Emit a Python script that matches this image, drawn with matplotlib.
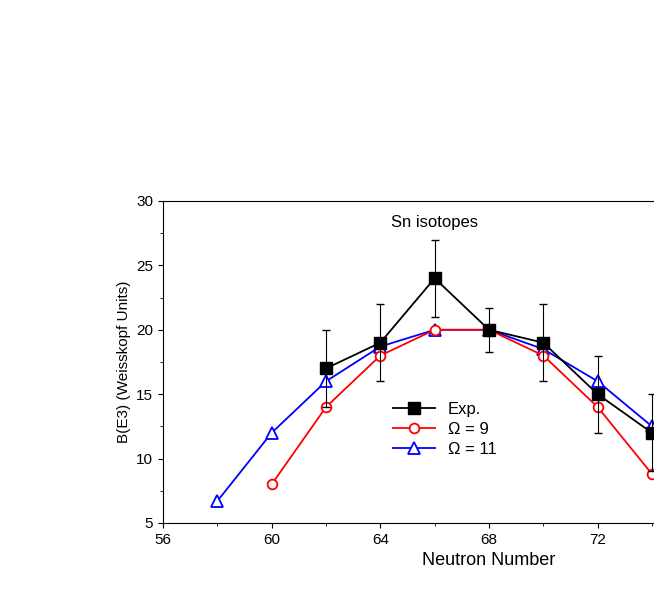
import matplotlib
matplotlib.use("Agg")
import matplotlib.pyplot as plt
from matplotlib.lines import Line2D

plt.rcParams['font.family'] = ['Liberation Sans', 'DejaVu Sans']

exp_n = [62, 64, 66, 68, 70, 72, 74]
exp_b = [17, 19, 24, 20, 19, 15, 12]
exp_err = [3, 3, 3, 1.7, 3, 3, 3]
o9_n = [60, 62, 64, 66, 68, 70, 72, 74]
o9_b = [8, 14, 18, 20, 20, 18, 14, 8.8]
o11_n = [58, 60, 62, 64, 66, 68, 70, 72, 74]
o11_b = [6.7, 12, 16, 18.7, 20, 20, 18.5, 16, 12.5]

fig = plt.figure(figsize=(6.54, 5.99), dpi=100)
ax = fig.add_axes([163/654, 76/599, 652/654, 322/599])
ax.errorbar(exp_n, exp_b, yerr=exp_err, color='black', ecolor='black', elinewidth=0.8,
            capsize=3, marker='s', markersize=8, lw=1.3, zorder=3)
ax.plot(o9_n, o9_b, color='red', marker='o', mfc='white', mec='red', markersize=7,
        mew=1.3, lw=1.3, zorder=2)
ax.plot(o11_n, o11_b, color='blue', marker='^', mfc='white', mec='blue', markersize=8,
        mew=1.3, lw=1.3, zorder=1)
ax.set_xlim(56, 80)
ax.set_ylim(5, 30)
ax.set_xticks([56, 60, 64, 68, 72])
ax.set_xticks(range(56, 76, 2), minor=True)
ax.set_yticks([5, 10, 15, 20, 25, 30])
ax.set_yticks([7.5 + 5*i for i in range(5)], minor=True)
ax.tick_params(labelsize=11)
ax.set_xlabel('Neutron Number', fontsize=13)
ax.set_ylabel('B(E3) (Weisskopf Units)', fontsize=11)
ax.text(66, 28.3, 'Sn isotopes', ha='center', va='center', fontsize=12)
handles = [
    Line2D([], [], color='black', marker='s', markersize=8, lw=1.3),
    Line2D([], [], color='red', marker='o', mfc='white', mec='red', markersize=7, mew=1.3, lw=1.3),
    Line2D([], [], color='blue', marker='^', mfc='white', mec='blue', markersize=8, mew=1.3, lw=1.3),
]
ax.legend(handles, ['Exp.', 'Ω = 9', 'Ω = 11'], loc='center left',
          bbox_to_anchor=(0.335, 0.29), frameon=False, fontsize=12,
          handlelength=2.5, borderpad=0.2, labelspacing=0.3)
fig.savefig('out.png', dpi=100)
